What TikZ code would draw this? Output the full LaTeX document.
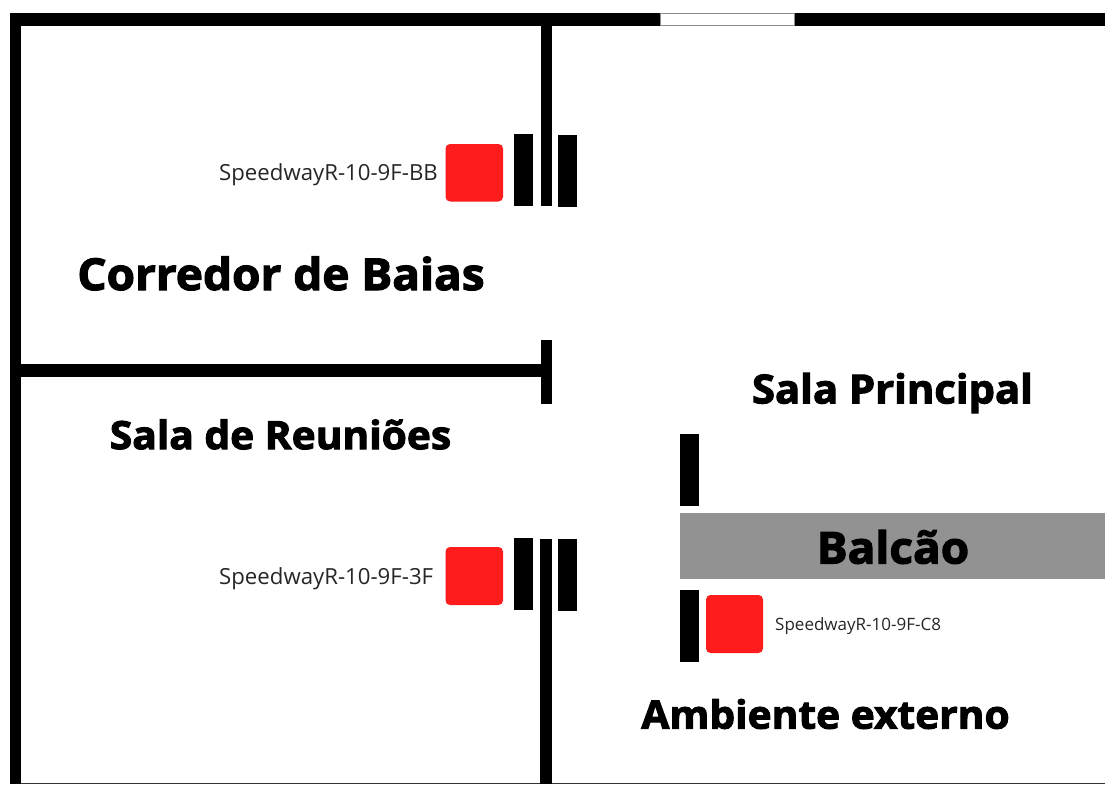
\documentclass[tikz,border=0pt]{standalone}
\usepackage{fontspec}
\setmainfont{Open Sans}
\newfontfamily\heavy[FakeBold=2.6,FakeStretch=1.044]{Open Sans Bold}
\definecolor{redbox}{HTML}{FF1C1C}
\definecolor{counter}{HTML}{929292}
\tikzset{
  wall/.style={fill=black,draw=none},
  redsq/.style={fill=redbox,draw=none,rounded corners=4.5pt},
  roomlabel/.style={inner sep=0pt,font=\heavy\fontsize{#1}{#1}\selectfont,text=black},
  readerlabel/.style={inner sep=0pt,font=\fontsize{#1}{#1}\selectfont,text=black!85}
}
\begin{document}
\begin{tikzpicture}[x=1pt,y=-1pt]
\useasboundingbox (0,0) rectangle (1105,784);
% bottom edge
\fill[black!80] (20,783) rectangle (1105,784);
% outer walls
\fill[wall] (9.5,13) rectangle (1105,26);
\fill[wall] (9.5,13) rectangle (20.5,784);
\fill[white,draw=black!45,line width=0.5pt] (660,13.5) rectangle (794.5,25.5);
% inner walls
\fill[wall] (541,26) rectangle (552,206);
\fill[wall] (20.5,364) rectangle (541,377);
\fill[wall] (541,340) rectangle (552,404);
\fill[wall] (540,539) rectangle (551.5,784);
% bars
\fill[wall] (514,134) rectangle (533,206);
\fill[wall] (558,135) rectangle (577,207);
\fill[wall] (514,538) rectangle (533,610);
\fill[wall] (558,539) rectangle (577,611);
\fill[wall] (680,434) rectangle (699,506);
\fill[wall] (680,590) rectangle (699,662);
% counter
\fill[counter] (680,513) rectangle (1105,579);
% readers
\fill[redsq] (445.5,144) rectangle (503,201.5);
\fill[redsq] (445.5,547) rectangle (503,605);
\fill[redsq] (706,595) rectangle (763,653);
% labels
\node[roomlabel=44] (corredor) at (281,273.5) {Corredor de Baias};
\node[roomlabel=39] (reunioes) at (280.5,434.5) {Sala de Reuniões};
\node[roomlabel=40] (principal) at (892.5,393) {Sala Principal};
\node[roomlabel=44] (balcao) at (893,547) {Balcão};
\node[roomlabel=39] (externo) at (825.5,714) {Ambiente externo};
\node[readerlabel=22.2,anchor=west] (bb) at (219,175) {SpeedwayR-10-9F-BB};
\node[readerlabel=22.2,anchor=west] (tf) at (219,579) {SpeedwayR-10-9F-3F};
\node[readerlabel=17,anchor=west] (c8) at (775,626) {SpeedwayR-10-9F-C8};
\end{tikzpicture}
\end{document}
